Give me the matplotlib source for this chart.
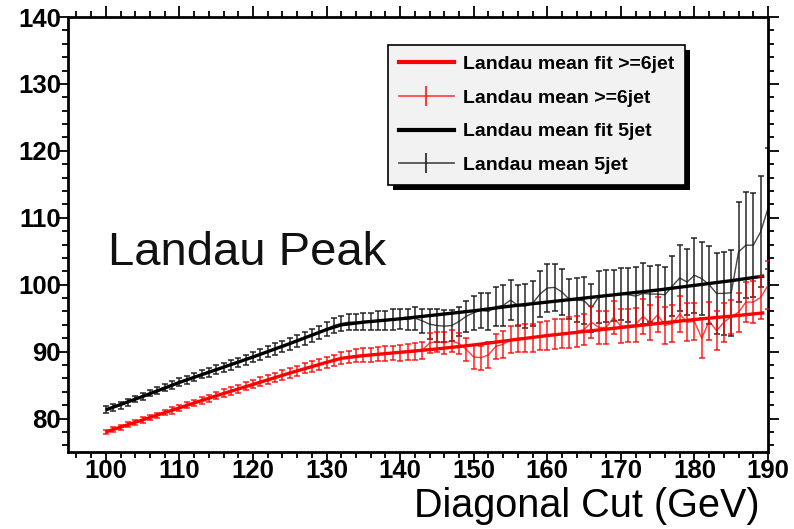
import numpy as np
import matplotlib
matplotlib.use("Agg")
import matplotlib.pyplot as plt
from matplotlib.lines import Line2D
from matplotlib.patches import Rectangle
from matplotlib.ticker import MultipleLocator

plt.rcParams['font.family'] = ['Liberation Sans', 'DejaVu Sans']

# ---------------- data ----------------
x_cut = list(range(100, 191))

mean_5jet = [
    81.3, 81.6, 82.0, 82.4, 82.9, 83.3, 83.8, 84.2, 84.6, 85.0,   # 100-109
    85.5, 85.8, 86.2, 86.6, 86.9, 87.3, 87.6, 88.0, 88.4, 88.8,   # 110-119
    89.2, 89.6, 90.0, 90.4, 90.8, 91.2, 91.6, 92.0, 92.4, 92.9,   # 120-129
    93.4, 93.9, 94.2, 94.4, 94.4, 94.5, 94.5, 94.6, 94.6, 94.8,   # 130-139
    94.9, 94.8, 95.0, 94.6, 94.1, 93.9, 93.8, 93.9, 94.5, 95.3,   # 140-149
    95.8, 96.2, 96.0, 96.7, 96.9, 97.7, 96.9, 96.8, 97.2, 98.6,   # 150-159
    99.5, 99.6, 98.9, 97.8, 97.7, 97.6, 96.5, 98.2, 98.3, 98.4,   # 160-169
    98.6, 98.5, 98.3, 98.7, 98.6, 98.6, 98.5, 99.8, 101.0, 100.4, # 170-179
    101.4, 100.9, 100.0, 98.7, 98.7, 98.8, 104.9, 105.9, 105.9, 107.9,  # 180-189
    111.4,                                                        # 190
]
err_5jet = [
    0.5, 0.5, 0.5, 0.5, 0.5, 0.5, 0.5, 0.5, 0.55, 0.55,
    0.6, 0.6, 0.6, 0.6, 0.65, 0.65, 0.7, 0.7, 0.7, 0.75,
    0.75, 0.8, 0.8, 0.85, 0.85, 0.9, 0.9, 0.95, 1.0, 1.0,
    1.05, 1.1, 1.1, 1.2, 1.2, 1.3, 1.3, 1.4, 1.4, 1.5,
    1.5, 1.6, 1.7, 1.8, 2.2, 2.4, 2.4, 2.3, 2.2, 2.3,
    2.5, 2.6, 2.8, 2.9, 3.0, 3.0, 3.1, 3.3, 3.3, 3.5,
    3.6, 3.5, 3.4, 3.0, 3.3, 3.5, 3.6, 3.9, 3.9, 3.8,
    3.9, 4.0, 4.4, 4.6, 4.2, 4.4, 4.1, 4.5, 5.0, 4.9,
    5.6, 5.5, 5.8, 6.1, 6.2, 6.4, 7.5, 7.9, 7.8, 8.3,
    9.0,
]

mean_6jet = [
    78.0, 78.4, 78.7, 79.1, 79.4, 79.8, 80.2, 80.5, 80.9, 81.2,   # 100-109
    81.6, 82.0, 82.3, 82.7, 83.0, 83.4, 83.8, 84.1, 84.4, 84.8,   # 110-119
    85.1, 85.5, 85.8, 86.1, 86.5, 86.8, 87.1, 87.5, 87.8, 88.1,   # 120-129
    88.4, 88.7, 89.0, 89.2, 89.4, 89.5, 89.5, 89.6, 89.7, 89.8,   # 130-139
    89.8, 89.9, 90.0, 90.2, 91.3, 91.5, 91.3, 91.6, 91.2, 90.3,   # 140-149
    89.2, 89.1, 89.5, 90.8, 91.1, 91.8, 92.0, 92.0, 92.1, 92.3,   # 150-159
    92.4, 92.6, 92.7, 92.8, 93.0, 93.3, 94.4, 93.6, 93.6, 95.1,   # 160-169
    93.8, 93.9, 94.0, 95.3, 94.3, 95.5, 93.9, 94.2, 95.6, 94.4,   # 170-179
    94.5, 92.0, 94.6, 93.1, 94.4, 95.2, 95.9, 97.4, 97.4, 98.1,   # 180-189
    99.9,                                                         # 190
]
err_6jet = [
    0.35, 0.35, 0.35, 0.35, 0.4, 0.4, 0.4, 0.4, 0.4, 0.45,
    0.45, 0.45, 0.5, 0.5, 0.5, 0.5, 0.55, 0.55, 0.6, 0.6,
    0.6, 0.65, 0.65, 0.7, 0.7, 0.7, 0.75, 0.75, 0.8, 0.8,
    0.85, 0.85, 0.9, 0.9, 0.95, 1.0, 1.0, 1.05, 1.1, 1.1,
    1.2, 1.2, 1.3, 1.3, 1.5, 1.5, 1.6, 1.6, 1.6, 1.7,
    1.8, 1.8, 1.9, 1.9, 2.0, 2.0, 2.0, 2.1, 2.1, 2.1,
    2.2, 2.2, 2.2, 2.3, 2.3, 2.3, 2.4, 2.4, 2.4, 2.5,
    2.5, 2.5, 2.5, 2.6, 2.6, 2.6, 2.7, 2.7, 2.7, 2.8,
    2.8, 3.0, 2.8, 2.9, 2.9, 2.5, 2.9, 3.0, 3.1, 3.2,
    3.6,
]

fit_x = [100, 105, 110, 115, 120, 125, 130, 132, 135, 140, 145, 150, 155,
         160, 165, 170, 175, 180, 185, 189.5]
fit_5jet = [81.3, 83.3, 85.4, 87.3, 89.2, 91.2, 93.3, 94.0, 94.4, 94.9, 95.5,
            96.1, 96.8, 97.4, 98.0, 98.6, 99.2, 99.9, 100.6, 101.3]
fit_6jet = [78.0, 79.8, 81.6, 83.4, 85.1, 86.8, 88.4, 89.0, 89.4, 89.9, 90.4,
            91.0, 91.7, 92.4, 93.0, 93.6, 94.2, 94.8, 95.3, 95.8]

legend_labels = ["Landau mean fit >=6jet", "Landau mean >=6jet",
                 "Landau mean fit 5jet", "Landau mean 5jet"]

# ---------------- figure ----------------
W, H = 794, 529
fig = plt.figure(figsize=(W / 100, H / 100), dpi=100)
ax = fig.add_axes([68 / W, 1 - 452 / H, 700 / W, 435 / H])

blk = '#1a1a1a'
red = '#ff0000'

ax.errorbar(x_cut, mean_5jet, yerr=err_5jet, color=blk, lw=1.0, elinewidth=1.3,
            capsize=2.2, capthick=1.3, alpha=0.8, zorder=2)
ax.plot(fit_x, fit_5jet, color='black', lw=2.4, zorder=3, solid_capstyle='butt')
ax.errorbar(x_cut, mean_6jet, yerr=err_6jet, color=red, lw=1.0, elinewidth=1.3,
            capsize=2.2, capthick=1.3, alpha=0.75, zorder=4)
ax.plot(fit_x, fit_6jet, color=red, lw=2.4, zorder=5, solid_capstyle='butt')

ax.set_xlim(94.85, 190)
ax.set_ylim(75, 140)

ax.xaxis.set_major_locator(MultipleLocator(10))
ax.xaxis.set_minor_locator(MultipleLocator(2))
ax.yaxis.set_major_locator(MultipleLocator(10))
ax.yaxis.set_minor_locator(MultipleLocator(2))
ax.tick_params(which='both', direction='out', top=True, right=True,
               labeltop=False, labelright=False, width=1.3, color='black')
ax.tick_params(which='major', length=8)
ax.tick_params(which='minor', length=4)
ax.tick_params(axis='x', which='major', labelsize=18.5, pad=-3)
ax.tick_params(axis='y', which='major', labelsize=18.5, pad=-3)
for lab in ax.get_xticklabels() + ax.get_yticklabels():
    lab.set_fontweight('bold')
for sp in ax.spines.values():
    sp.set_linewidth(2.0)

fig.text(760 / W, 1 - 517 / H, "Diagonal Cut (GeV)", ha='right',
         va='baseline', fontsize=28.5, color='black')
ax.text((108 - 68) / 700, (452 - 265) / 435, "Landau Peak",
        transform=ax.transAxes, ha='left', va='baseline', fontsize=34,
        color='#111111')

handles = [
    Line2D([], [], color=red, lw=3),
    Line2D([], [], color=red, lw=1.2, alpha=0.75, marker='|', markersize=15,
           markeredgewidth=1.5),
    Line2D([], [], color='black', lw=3),
    Line2D([], [], color=blk, lw=1.2, alpha=0.8, marker='|', markersize=15,
           markeredgewidth=1.5),
]
leg = ax.legend(handles, legend_labels, loc='upper left',
                bbox_to_anchor=((388 - 68) / 700, (452 - 45) / 435),
                frameon=True, fancybox=False,
                prop={'weight': 'bold', 'size': 14},
                handlelength=2.85, handletextpad=0.45, labelspacing=0.82,
                borderpad=0.55, borderaxespad=0)
leg.get_frame().set_facecolor('#f2f2f2')
leg.get_frame().set_edgecolor('black')
leg.get_frame().set_linewidth(1.2)
leg.get_frame().set_alpha(1.0)
leg.set_zorder(10)

# ROOT-style solid black drop shadow behind the legend box
fig.canvas.draw()
bb = leg.get_window_extent()
inv = fig.transFigure.inverted()
(x0, y0), (x1, y1) = inv.transform([[bb.x0, bb.y0], [bb.x1, bb.y1]])
dx, dy = 5 / W, 5 / H
shadow = Rectangle((x0 + dx, y0 - dy), x1 - x0, y1 - y0, transform=fig.transFigure,
                   facecolor='black', edgecolor='none', zorder=9)
ax.add_artist(shadow)
shadow.set_clip_on(False)

fig.savefig("out.png", dpi=100)
